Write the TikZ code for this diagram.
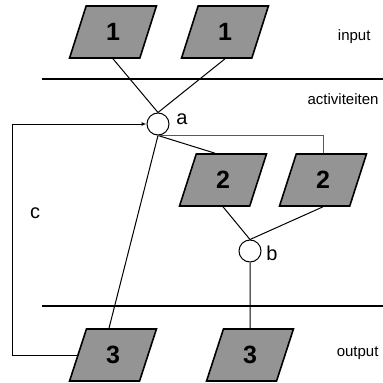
\documentclass[tikz,border=0pt]{standalone}
\usepackage{fontspec}
\setmainfont{Liberation Sans}
\usetikzlibrary{shapes.geometric,arrows.meta,calc}
\begin{document}
\begin{tikzpicture}[x=1pt,y=-1pt,
  doc/.style={trapezium, trapezium left angle=76, trapezium right angle=104,
    trapezium stretches=true, minimum width=87pt, minimum height=52pt,
    inner sep=0pt, draw, line width=1.6pt, fill=black!42,
    font=\fontsize{25}{25}\selectfont\bfseries},
  junction/.style={circle, draw, line width=1pt, minimum size=22pt,
    inner sep=0pt, fill=white},
  link/.style={line width=1pt},
  thinlink/.style={line width=0.7pt, black!65},
  rule/.style={line width=2pt},
  lane/.style={font=\fontsize{15}{15}\selectfont, anchor=east},
  tag/.style={font=\fontsize{20}{20}\selectfont}]
\useasboundingbox (0,0) rectangle (383,383);

% swim-lane separators
\draw[rule] (42,79) -- (383,79);
\draw[rule] (42,306) -- (383,306);

% documents per lane
\node[doc] (in1) at (113,32) {1};
\node[doc] (in2) at (225,32) {1};
\node[doc] (ac1) at (223,180) {2};
\node[doc] (ac2) at (323,180) {2};
\node[doc] (out1) at (113,355) {3};
\node[doc] (out2) at (250,355) {3};

% activity junctions
\node[junction] (a) at (158,124) {};
\node[junction] (b) at (250,251) {};

% connectors
\draw[link] (in1.south) -- (a.north);
\draw[link] (in2.south) -- (a.north);
\draw[link] (a.south) -- ($(ac1.north)+(-8,0)$);
\draw[thinlink] (a.south) -| (ac2.north);
\draw[link] (a.south) -- ($(out1.north)+(-4,0)$);
\draw[link] (ac1.south) -- (b.north);
\draw[link] (ac2.south) -- (b.north);
\draw[link] (b.south) -- (out2.north);
\coordinate (loop) at (12,124);
\draw[link, -{Latex[length=5pt,width=4pt]}] (out1.west) -| (loop) -- (a.west);

% labels
\node[tag] (la) at (182,119) {a};
\node[tag] (lb) at (272,253) {b};
\node[tag] (lc) at (35,213) {c};
\node[lane] (lin) at (374,37) {input};
\node[lane] (lact) at (382,99) {activiteiten};
\node[lane] (lout) at (382,353) {output};
\end{tikzpicture}
\end{document}
